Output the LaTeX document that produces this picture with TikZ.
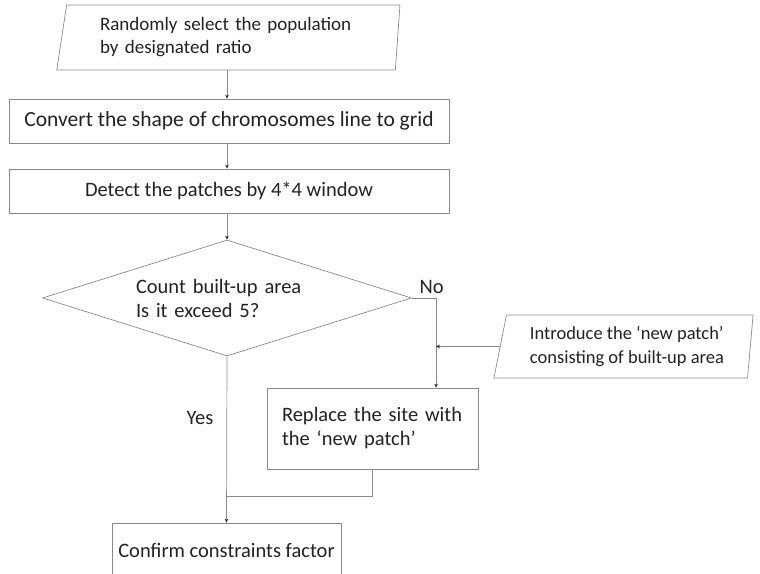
\documentclass[tikz,border=0pt]{standalone}
\usepackage{fontspec}
\setmainfont{Carlito}
\usetikzlibrary{shapes.geometric,arrows.meta,positioning,calc}
\definecolor{linegray}{HTML}{8A8A8A}
\definecolor{textgray}{HTML}{222222}

\begin{document}
\begin{tikzpicture}[x=1pt,y=-1pt,
  font=\fontsize{20.5}{24}\selectfont, text=textgray,
  proc node/.style={rectangle, draw=linegray, line width=0.7pt, inner sep=0pt, align=center},
  io node/.style={trapezium, trapezium stretches=true, draw=linegray, line width=0.7pt, inner sep=0pt, align=left},
  test node/.style={diamond, aspect=3.2, draw=linegray, line width=0.7pt, inner sep=0pt, align=left},
  flow/.style={draw=linegray, line width=0.7pt},
  flow arrow/.style={flow, -{Stealth[length=4pt,width=3.5pt,color=textgray]}}]

  \useasboundingbox (0,0) rectangle (760,573);

  \node [io node, trapezium left angle=78.7, trapezium right angle=95.3,
         minimum width=344pt, minimum height=65pt, text width=262pt,
         font=\fontsize{19}{23}\selectfont] (select) at (231,37.5)
         {Randomly select the population\\by designated ratio};
  \node [proc node, minimum width=440pt, minimum height=44pt,
         font=\fontsize{21.5}{24}\selectfont] (convert) at (229,121)
         {Convert the shape of chromosomes line to grid};
  \node [proc node, minimum width=440pt, minimum height=44pt] (detect) at (229,191)
         {Detect the patches by 4*4 window};
  \node [test node, minimum width=369pt, minimum height=116pt, text width=182pt] (count) at (227,298)
         {Count built-up area\\Is it exceed 5?};
  \node [io node, trapezium left angle=76, trapezium right angle=96.3,
         minimum width=260pt, minimum height=63pt,
         font=\fontsize{18.5}{24}\selectfont] (newpatch) at (627,346.5)
         {Introduce the ‘new patch’\\consisting of built-up area};
  \node [proc node, align=left, minimum width=211pt, minimum height=81pt, text width=181pt] (replace) at (372.5,428.5)
         {Replace the site with\\the ‘new patch’};
  \node [proc node, minimum width=229pt, minimum height=54pt] (confirm) at (226.5,550)
         {Confirm constraints factor};

  \coordinate (nobend) at (436,298);
  \coordinate (join) at (227,496);

  \draw [flow arrow] (select.south -| count) -- (convert.north -| count);
  \draw [flow arrow] (convert.south -| count) -- (detect.north -| count);
  \draw [flow arrow] (detect.south -| count) -- (count.north);
  \draw [flow arrow] (count.east) -- (nobend) -- (nobend |- replace.north);
  \draw [flow arrow] (newpatch.west) -- (newpatch.west -| nobend);
  \draw [flow arrow] (count.south) -- (confirm.north);
  \draw [flow] (replace.south) |- (join);

  \node [anchor=base west] (nolabel) at (416,293) {No};
  \node (yeslabel) at (200,418) {Yes};
\end{tikzpicture}
\end{document}
